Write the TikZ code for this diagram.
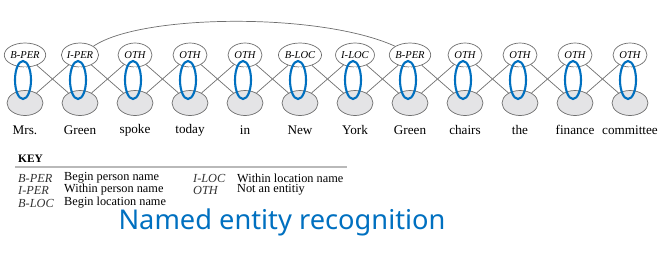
\documentclass[tikz,border=0pt]{standalone}
\usepackage{fontspec}
\setmainfont{Liberation Serif}
\newfontfamily\handfont{Noto Sans}
\usetikzlibrary{shapes.geometric}

\definecolor{handink}{RGB}{0,112,192}
\definecolor{edgegray}{RGB}{110,110,110}
\definecolor{obsfill}{RGB}{228,228,230}

\begin{document}
\begin{tikzpicture}[
    x=0.2mm, y=-0.2mm,
    tag/.style={draw=edgegray, ellipse, minimum width=6.8mm, minimum height=4.8mm,
        inner sep=0pt, font=\fontsize{6}{7}\selectfont\itshape},
    obs/.style={draw=edgegray, fill=obsfill, ellipse, minimum width=7.2mm,
        minimum height=5mm, inner sep=0pt},
    word/.style={font=\fontsize{7.5}{9}\selectfont},
    keytag/.style={anchor=west, font=\fontsize{7}{8}\selectfont\itshape, text=black!80},
    keytxt/.style={anchor=west, font=\fontsize{7}{8}\selectfont},
    link/.style={draw=edgegray, thin},
    pair/.style={draw=edgegray, double=white, double distance=1pt, very thin},
    ink/.style={draw=handink, line width=1.2pt}
]
    \useasboundingbox (0,0) rectangle (672,254);

    % Tags on top, shaded observations below, words underneath
    \foreach \i/\t/\w in {1/B-PER/Mrs., 2/I-PER/Green, 3/OTH/spoke, 4/OTH/today,
        5/OTH/in, 6/B-LOC/New, 7/I-LOC/York, 8/B-PER/Green, 9/OTH/chairs,
        10/OTH/the, 11/OTH/finance, 12/OTH/committee} {
        \node[tag] (t\i) at ({25+55*(\i-1)},55) {\t};
        \node[obs] (o\i) at ({25+55*(\i-1)},103) {};
        \node[word] (w\i) at ({25+55*(\i-1)},130) {\w};
        \draw[pair] (t\i) -- (o\i);
    }

    % Crossed links between neighbouring columns
    \foreach \i [evaluate=\i as \j using int(\i+1)] in {1,...,11} {
        \draw[link] (t\i) -- (o\j);
        \draw[link] (o\i) -- (t\j);
    }

    % Long-range link over the sentence
    \draw[link] (t2.north east) .. controls (140,14) and (320,12) .. (t8.north west);

    % Key
    \node[anchor=west, font=\fontsize{6.5}{8}\selectfont\bfseries] (key) at (12,159) {KEY};
    \draw[gray!55, line width=1.2pt] (15,167) -- (347,167);
    \node[keytag] (k1) at (12,178) {B-PER};
    \node[keytxt] (d1) at (58,178) {Begin person name};
    \node[keytag] (k2) at (12,190) {I-PER};
    \node[keytxt] (d2) at (58,190) {Within person name};
    \node[keytag] (k3) at (12,203) {B-LOC};
    \node[keytxt] (d3) at (58,203) {Begin location name};
    \node[keytag] (k4) at (187,178) {I-LOC};
    \node[keytxt] (d4) at (231,178) {Within location name};
    \node[keytag] (k5) at (187,190) {OTH};
    \node[keytxt] (d5) at (231,190) {Not an entitiy};

    % Hand-drawn marks over the tag/observation pairs
    \foreach \i in {1,...,12} {
        \draw[ink] ({23+55*(\i-1)},80) ellipse [x radius=8, y radius=19];
    }
    \node[font=\handfont\fontsize{15.5}{18}\selectfont, text=handink] (note) at (282,222)
        {Named entity recognition};
\end{tikzpicture}
\end{document}
